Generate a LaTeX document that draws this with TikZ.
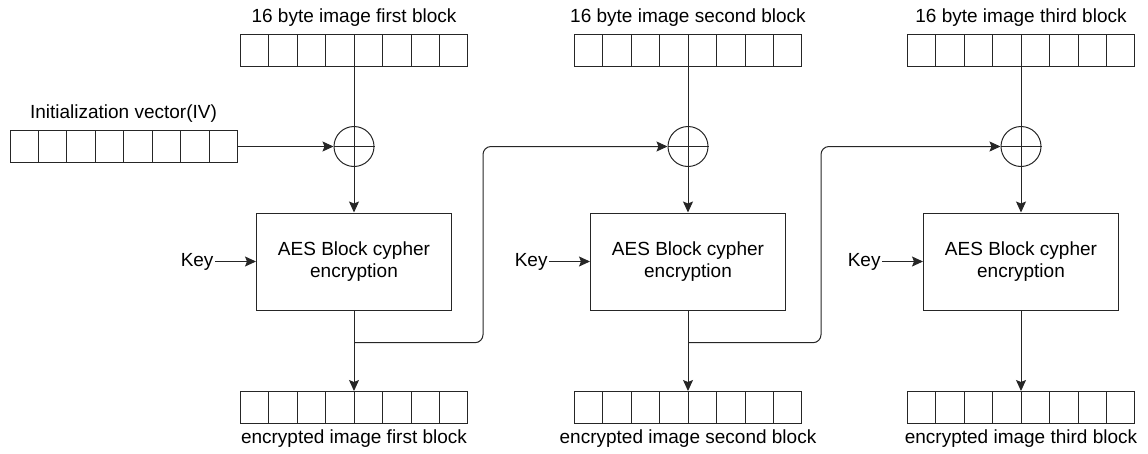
\documentclass[tikz,border=0pt]{standalone}
\usepackage{fontspec}
\setmainfont{Liberation Sans}
\usepackage{tikz}
\usetikzlibrary{
  arrows.meta,
  calc,
  positioning,
  shapes}

% dividers of an 8 byte strip
\newcommand{\bytecells}[1]{%
  \foreach \k in {1,...,7}
    \draw ($(#1.north west)!\k/8!(#1.north east)$) -- ($(#1.south west)!\k/8!(#1.south east)$);}

\tikzset{
  every node/.style={font=\fontsize{19}{22}\selectfont},
  strip/.style={draw, minimum width=227pt, minimum height=32pt, inner sep=0pt},
  xorop/.style={draw, circle, minimum size=40pt, inner sep=0pt},
  aes/.style={draw, minimum width=195pt, minimum height=97pt, align=center},
  flow/.style={-{Stealth[length=11pt,width=10pt,inset=2pt]}},
}

\begin{document}
\begin{tikzpicture}[x=1pt,y=-1pt,line width=1pt,draw=black!85]
            \useasboundingbox (0,0) rectangle (1148,453);
            % initialization vector
            \node[strip] (iv) at (123.5,146.5) {};
            \bytecells{iv}
            \node[above=4pt of iv] (ivtext) {Initialization vector(IV)};
            % one CBC stage per block
            \foreach \n/\cx/\w in {1/354/first, 2/688/second, 3/1021/third} {
              \node[strip] (in\n) at (\cx,50.5) {};
              \bytecells{in\n}
              \node[above=4pt of in\n] (intext\n) {16 byte image \w\ block};
              \node[xorop] (xor\n) at (\cx,146.5) {};
              \draw (xor\n.north) -- (xor\n.south) (xor\n.west) -- (xor\n.east);
              \draw (in\n) -- (xor\n);
              \node[aes] (aes\n) at (\cx,261.5) {AES Block cypher\\encryption};
              \draw[flow] (xor\n) -- (aes\n);
              \node[inner sep=1pt,left=41pt of aes\n] (key\n) {Key};
              \draw[flow] (key\n) -- (aes\n);
              \node[strip] (out\n) at (\cx,407.5) {};
              \bytecells{out\n}
              \node[below=2pt of out\n] (outtext\n) {encrypted image \w\ block};
              \draw[flow] (aes\n) -- (out\n);
              \coordinate (tap\n) at ($(aes\n.south)!0.4!(out\n.north)$);
            }
            \draw[flow] (iv) -- (xor1);
            % cipher text fed into the next stage
            \draw[flow,rounded corners=8pt] (tap1) -- ++(129,0) |- (xor2);
            \draw[flow,rounded corners=8pt] (tap2) -- ++(133,0) |- (xor3);
        \end{tikzpicture}
\end{document}
